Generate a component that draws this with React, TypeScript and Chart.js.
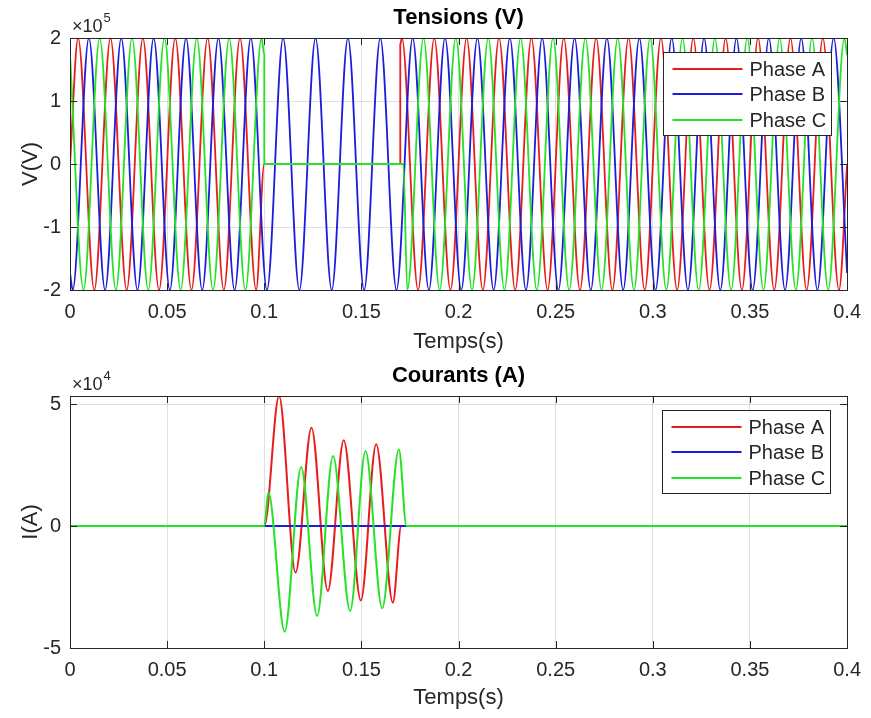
import React, { useEffect, useRef } from 'react';
import { Chart, registerables } from 'chart.js';

Chart.register(...registerables);

const FONT = '"Liberation Sans", Arial, Helvetica, sans-serif';
const TEXT = '#262626';
const GRID = 'rgba(38,38,38,0.15)';
const RED = 'rgb(232,28,28)';
const BLUE = 'rgb(28,28,220)';
const GREEN = 'rgb(36,226,36)';

// ---- axis ticks ----
const timeTicks = [0, 0.05, 0.1, 0.15, 0.2, 0.25, 0.3, 0.35, 0.4];
const timeTickLabels = ['0', '0.05', '0.1', '0.15', '0.2', '0.25', '0.3', '0.35', '0.4'];
const voltageTicks = [-200000, -100000, 0, 100000, 200000];
const voltageTickLabels = ['-2', '-1', '0', '1', '2'];
const currentTicks = [-50000, 0, 50000];
const currentTickLabels = ['-5', '0', '5'];
const phaseNames = ['Phase A', 'Phase B', 'Phase C'];

// ---- Tensions (V): [time s, value V] (peaks / zero points) ----
const tensionPhaseA: [number, number][] = [
  [0, 0], [0.00417, 2e5], [0.0125, -2e5], [0.02083, 2e5], [0.02917, -2e5], [0.0375, 2e5], [0.04583, -2e5],
  [0.05417, 2e5], [0.0625, -2e5], [0.07083, 2e5], [0.07917, -2e5], [0.0875, 2e5], [0.09583, -2e5], [0.1, 0],
  [0.17, 0], [0.17, 1.9e5], [0.17083, 2e5], [0.17917, -2e5], [0.1875, 2e5], [0.19583, -2e5], [0.20417, 2e5],
  [0.2125, -2e5], [0.22083, 2e5], [0.22917, -2e5], [0.2375, 2e5], [0.24583, -2e5], [0.25417, 2e5], [0.2625, -2e5],
  [0.27083, 2e5], [0.27917, -2e5], [0.2875, 2e5], [0.29583, -2e5], [0.30417, 2e5], [0.3125, -2e5], [0.32083, 2e5],
  [0.32917, -2e5], [0.3375, 2e5], [0.34583, -2e5], [0.35417, 2e5], [0.3625, -2e5], [0.37083, 2e5], [0.37917, -2e5],
  [0.3875, 2e5], [0.39583, -2e5], [0.4, 0],
];
const tensionPhaseB: [number, number][] = [
  [0, -1.73e5], [0.00139, -2e5], [0.00972, 2e5], [0.01806, -2e5], [0.02639, 2e5], [0.03472, -2e5], [0.04306, 2e5],
  [0.05139, -2e5], [0.05972, 2e5], [0.06806, -2e5], [0.07639, 2e5], [0.08472, -2e5], [0.09306, 2e5], [0.10139, -2e5],
  [0.10972, 2e5], [0.11806, -2e5], [0.12639, 2e5], [0.13472, -2e5], [0.14306, 2e5], [0.15139, -2e5], [0.15972, 2e5],
  [0.16806, -2e5], [0.17639, 2e5], [0.18472, -2e5], [0.19306, 2e5], [0.20139, -2e5], [0.20972, 2e5], [0.21806, -2e5],
  [0.22639, 2e5], [0.23472, -2e5], [0.24306, 2e5], [0.25139, -2e5], [0.25972, 2e5], [0.26806, -2e5], [0.27639, 2e5],
  [0.28472, -2e5], [0.29306, 2e5], [0.30139, -2e5], [0.30972, 2e5], [0.31806, -2e5], [0.32639, 2e5], [0.33472, -2e5],
  [0.34306, 2e5], [0.35139, -2e5], [0.35972, 2e5], [0.36806, -2e5], [0.37639, 2e5], [0.38472, -2e5], [0.39306, 2e5],
  [0.4, -1.73e5],
];
const tensionPhaseC: [number, number][] = [
  [0, 1.73e5], [0.00694, -2e5], [0.01528, 2e5], [0.02361, -2e5], [0.03194, 2e5], [0.04028, -2e5], [0.04861, 2e5],
  [0.05694, -2e5], [0.06528, 2e5], [0.07361, -2e5], [0.08194, 2e5], [0.09028, -2e5], [0.09861, 2e5], [0.1, 1.73e5],
  [0.1, 0], [0.1716, 0], [0.17361, -2e5], [0.18194, 2e5], [0.19028, -2e5], [0.19861, 2e5], [0.20694, -2e5],
  [0.21528, 2e5], [0.22361, -2e5], [0.23194, 2e5], [0.24028, -2e5], [0.24861, 2e5], [0.25694, -2e5], [0.26528, 2e5],
  [0.27361, -2e5], [0.28194, 2e5], [0.29028, -2e5], [0.29861, 2e5], [0.30694, -2e5], [0.31528, 2e5], [0.32361, -2e5],
  [0.33194, 2e5], [0.34028, -2e5], [0.34861, 2e5], [0.35694, -2e5], [0.36528, 2e5], [0.37361, -2e5], [0.38194, 2e5],
  [0.39028, -2e5], [0.39861, 2e5], [0.4, 1.73e5],
];

// ---- Courants (A): [time s, value A] ----
const courantPhaseA: [number, number][] = [
  [0, 0], [0.1, 0], [0.1076, 5.33e4], [0.1161, -1.91e4], [0.1243, 4.03e4], [0.1327, -2.66e4], [0.1409, 3.51e4],
  [0.1497, -3.05e4], [0.1576, 3.35e4], [0.1662, -3.14e4], [0.1705, 0], [0.4, 0],
];
const courantPhaseB: [number, number][] = [
  [0, 0], [0.4, 0],
];
const courantPhaseC: [number, number][] = [
  [0, 0], [0.1, 0], [0.1021, 1.37e4], [0.1105, -4.33e4], [0.119, 2.42e4], [0.1272, -3.69e4], [0.1354, 2.87e4],
  [0.1442, -3.48e4], [0.1521, 3.07e4], [0.1607, -3.37e4], [0.1693, 3.14e4], [0.1732, 0], [0.4, 0],
];

const COLORS = [RED, BLUE, GREEN];

function labelFor(ticks: number[], labels: string[], v: number) {
  const i = ticks.findIndex((t) => Math.abs(t - v) < 1e-9);
  return i >= 0 ? labels[i] : '';
}

function makeDatasets(series: [number, number][][], width: number) {
  return series.map((s, i) => ({
    label: phaseNames[i],
    data: s.map(([x, y]) => ({ x, y })),
    borderColor: COLORS[i],
    backgroundColor: COLORS[i],
    borderWidth: width,
    pointRadius: 0,
    cubicInterpolationMode: 'monotone' as const,
    fill: false,
    order: 3 - i,
  }));
}

function matlabPlugin(exponent: string, legend: { right: number; top: number }) {
  return {
    id: 'matlabDecor',
    afterDraw(chart: any) {
      const { ctx, chartArea: a, scales } = chart;
      ctx.save();
      // box
      ctx.strokeStyle = TEXT;
      ctx.lineWidth = 1;
      ctx.strokeRect(Math.round(a.left) + 0.5, Math.round(a.top) + 0.5, Math.round(a.right - a.left), Math.round(a.bottom - a.top));
      // inward ticks
      const tl = 7;
      ctx.beginPath();
      for (const t of scales.x.ticks) {
        const px = Math.round(scales.x.getPixelForValue(t.value)) + 0.5;
        ctx.moveTo(px, a.bottom); ctx.lineTo(px, a.bottom - tl);
        ctx.moveTo(px, a.top); ctx.lineTo(px, a.top + tl);
      }
      for (const t of scales.y.ticks) {
        const py = Math.round(scales.y.getPixelForValue(t.value)) + 0.5;
        ctx.moveTo(a.left, py); ctx.lineTo(a.left + tl, py);
        ctx.moveTo(a.right, py); ctx.lineTo(a.right - tl, py);
      }
      ctx.stroke();
      // exponent label
      ctx.fillStyle = TEXT;
      ctx.textAlign = 'left';
      ctx.textBaseline = 'alphabetic';
      ctx.font = `18px ${FONT}`;
      const baseX = a.left + 2;
      const baseY = a.top - 6;
      ctx.fillText('×10', baseX, baseY);
      const w = ctx.measureText('×10').width;
      ctx.font = `13px ${FONT}`;
      ctx.fillText(exponent, baseX + w + 1, baseY - 10);
      // legend
      const bw = 168, bh = 83;
      const bx = Math.round(a.right - legend.right - bw) + 0.5;
      const by = Math.round(a.top + legend.top) + 0.5;
      ctx.fillStyle = '#ffffff';
      ctx.fillRect(bx, by, bw, bh);
      ctx.strokeStyle = TEXT;
      ctx.lineWidth = 1;
      ctx.strokeRect(bx, by, bw, bh);
      ctx.font = `20px ${FONT}`;
      ctx.textBaseline = 'middle';
      for (let i = 0; i < 3; i++) {
        const ry = Math.round(by + 16 + i * 25.6);
        ctx.strokeStyle = COLORS[i];
        ctx.lineWidth = 2;
        ctx.beginPath();
        ctx.moveTo(bx + 9, ry); ctx.lineTo(bx + 79, ry);
        ctx.stroke();
        ctx.fillStyle = TEXT;
        ctx.fillText(phaseNames[i], bx + 86, ry + 1);
      }
      ctx.restore();
    },
  };
}

function baseOptions(opts: {
  title: string; titlePadTop: number; xHeight: number; xTitlePadBottom: number;
  yMin: number; yMax: number; yTicks: number[]; yLabels: string[]; yTitle: string;
}) {
  return {
    responsive: false,
    animation: false as const,
    devicePixelRatio: 1,
    events: [] as any[],
    layout: { padding: { left: 0, right: 20, top: 0, bottom: 0 } },
    plugins: {
      legend: { display: false },
      tooltip: { enabled: false },
      title: {
        display: true,
        text: opts.title,
        fullSize: false,
        color: '#000',
        font: { family: FONT, size: 22, weight: 'bold' as const, lineHeight: 1.2 },
        padding: { top: opts.titlePadTop, bottom: 6.6 },
      },
    },
    scales: {
      x: {
        type: 'linear' as const,
        min: 0,
        max: 0.4,
        afterBuildTicks: (s: any) => { s.ticks = timeTicks.map((v) => ({ value: v })); },
        afterFit: (s: any) => { s.height = opts.xHeight; },
        ticks: {
          autoSkip: false, maxRotation: 0, minRotation: 0, padding: 10, color: TEXT,
          font: { family: FONT, size: 20, lineHeight: 1.2 },
          callback: (v: any) => labelFor(timeTicks, timeTickLabels, Number(v)),
        },
        grid: { color: GRID, lineWidth: 1, drawTicks: false },
        border: { display: false },
        title: {
          display: true, text: 'Temps(s)', color: TEXT,
          font: { family: FONT, size: 22, lineHeight: 1.2 },
          padding: { top: 0, bottom: opts.xTitlePadBottom },
        },
      },
      y: {
        type: 'linear' as const,
        min: opts.yMin,
        max: opts.yMax,
        afterBuildTicks: (s: any) => { s.ticks = opts.yTicks.map((v) => ({ value: v })); },
        afterFit: (s: any) => { s.width = 70; },
        ticks: {
          autoSkip: false, padding: 9, color: TEXT,
          font: { family: FONT, size: 20, lineHeight: 1.2 },
          callback: (v: any) => labelFor(opts.yTicks, opts.yLabels, Number(v)),
        },
        grid: { color: GRID, lineWidth: 1, drawTicks: false },
        border: { display: false },
        title: {
          display: true, text: opts.yTitle, color: TEXT,
          font: { family: FONT, size: 22, lineHeight: 1.2 },
          padding: { top: 18, bottom: 0 },
        },
      },
    },
  };
}

function ChartCanvas({ top, height, build }: { top: number; height: number; build: () => any }) {
  const ref = useRef<HTMLCanvasElement>(null);
  useEffect(() => {
    const chart = new Chart(ref.current as HTMLCanvasElement, build());
    return () => chart.destroy();
  }, []);
  return (
    <canvas
      ref={ref}
      width={871}
      height={height}
      style={{ position: 'absolute', left: 0, top, width: 871, height, display: 'block' }}
    />
  );
}

const buildTensions = () => ({
  type: 'line' as const,
  data: { datasets: makeDatasets([tensionPhaseA, tensionPhaseB, tensionPhaseC], 1.8) },
  options: baseOptions({
    title: 'Tensions (V)', titlePadTop: 5, xHeight: 70, xTitlePadBottom: 5,
    yMin: -200000, yMax: 200000, yTicks: voltageTicks, yLabels: voltageTickLabels, yTitle: 'V(V)',
  }),
  plugins: [matlabPlugin('5', { right: 16, top: 14 })],
});

const buildCourants = () => ({
  type: 'line' as const,
  data: { datasets: makeDatasets([courantPhaseA, courantPhaseB, courantPhaseC], 2) },
  options: baseOptions({
    title: 'Courants (A)', titlePadTop: 3, xHeight: 70, xTitlePadBottom: 7,
    yMin: -50000, yMax: 53280, yTicks: currentTicks, yLabels: currentTickLabels, yTitle: 'I(A)',
  }),
  plugins: [matlabPlugin('4', { right: 17, top: 14 })],
});

export default function App() {
  return (
    <div style={{ position: 'absolute', left: 0, top: 0, width: 871, height: 718, background: '#fff', overflow: 'hidden' }}>
      <ChartCanvas top={0} height={360} build={buildTensions} />
      <ChartCanvas top={360} height={358} build={buildCourants} />
    </div>
  );
}
